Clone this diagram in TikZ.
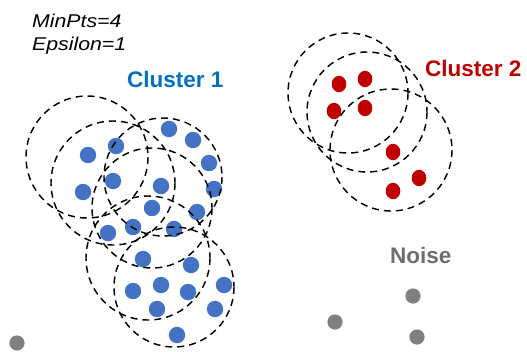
\documentclass[tikz,border=0pt]{standalone}
\usepackage{fontspec}
\setmainfont{Liberation Sans}
\definecolor{cblue}{RGB}{68,114,196}
\definecolor{ctitle}{RGB}{0,112,192}
\definecolor{cred}{RGB}{192,0,0}
\definecolor{cgrey}{RGB}{128,128,128}
\definecolor{cnoise}{RGB}{110,110,110}
\begin{document}
\begin{tikzpicture}[x=1bp,y=-1bp,
  epscircle/.style={draw=black,dash pattern=on 7bp off 5bp,line width=1.45bp},
  bluedot/.style={fill=cblue},
  reddot/.style={fill=cred},
  greydot/.style={fill=cgrey},
  param/.style={anchor=base west,inner sep=0pt,font=\fontsize{18.5bp}{20bp}\selectfont\itshape},
  title/.style={anchor=base west,inner sep=0pt,font=\fontsize{22.5bp}{24bp}\selectfont\bfseries}]
\clip (0,0) rectangle (527,351);
\fill[white] (0,0) rectangle (527,351);
% texts
\node[param] (minpts) at (32,27) {\scalebox{1.15}[1]{MinPts=4}};
\node[param] (eps) at (32,50) {\scalebox{1.15}[1]{Epsilon=1}};
\node[title,text=ctitle] (c1) at (127,87) {Cluster 1};
\node[title,text=cred] (c2) at (425,76) {Cluster 2};
\node[title,text=cnoise] (noise) at (390,263) {Noise};
% cluster 1 points
\foreach \p in {(169,129),(193,140),(209,163),(88,155),(116,146),(113,181),
  (161,186),(214,189),(83,192),(152,208),(197,212),(108,233),(133,227),
  (174,229),(143,259),(191,265),(133,291),(161,285),(188,292),(224,285),
  (157,309),(215,309),(177,335)}
  \fill[bluedot] \p circle[radius=8.2];
% cluster 2 points
\foreach \p in {(339,84),(365,79),(334,111),(365,108),(393,152),(419,178),(393,191)}
  \fill[reddot] \p ellipse[x radius=7.3,y radius=8.2];
% noise points
\foreach \p in {(413,296),(335,322),(417,337),(17,343)}
  \fill[greydot] \p circle[radius=7.6];
% epsilon neighbourhoods, cluster 1
\draw[epscircle] (87,157) circle[radius=61];
\draw[epscircle] (113,183) circle[radius=62];
\draw[epscircle] (152,208) circle[radius=60];
\draw[epscircle] (163,177) circle[radius=59];
\draw[epscircle] (148,258) circle[radius=62];
\draw[epscircle] (174,287) circle[radius=60];
% epsilon neighbourhoods, cluster 2
\draw[epscircle] (348,93) circle[radius=60];
\draw[epscircle] (367,112) circle[radius=60];
\draw[epscircle] (391,150) circle[radius=61];
\end{tikzpicture}
\end{document}
